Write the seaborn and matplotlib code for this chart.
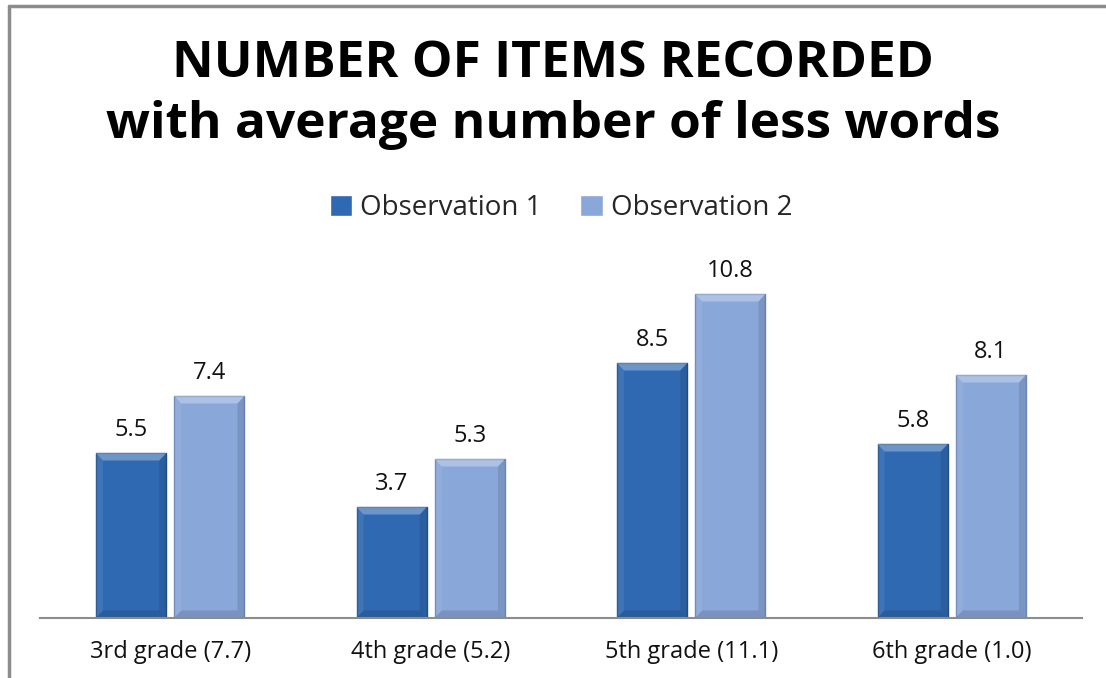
import pandas as pd
import matplotlib.pyplot as plt
import seaborn as sns
from matplotlib.patches import Polygon

# data
grades = ['3rd grade (7.7)', '4th grade (5.2)', '5th grade (11.1)', '6th grade (1.0)']
obs1 = [5.5, 3.7, 8.5, 5.8]
obs2 = [7.4, 5.3, 10.8, 8.1]
series = ['Observation 1', 'Observation 2']

df = pd.DataFrame({
    'grade': grades * 2,
    'value': obs1 + obs2,
    'series': [series[0]] * len(grades) + [series[1]] * len(grades),
})

sns.set_style('white')
plt.rcParams['font.family'] = ['Open Sans', 'DejaVu Sans']

colors = ['#2f69b1', '#8aa7d9']
edges = ['#214f8a', '#6b87b8']

fig = plt.figure(figsize=(11.06, 6.78), dpi=100)
ax = fig.add_axes([40 / 1106, 60 / 678, 1042 / 1106, 360 / 678])

sns.barplot(data=df, x='grade', y='value', hue='series', palette=colors,
            width=0.6, gap=0.1, ax=ax, legend=True, saturation=1)


def facet(pts, col, a):
    ax.add_patch(Polygon(pts, closed=True, facecolor=col, alpha=a, edgecolor='none'))


# bevel look: darker outline + light top / left, dark right / bottom facets
for i, cont in enumerate(ax.containers):
    for bar in cont:
        bar.set_edgecolor(edges[i])
        bar.set_linewidth(1.0)
        x0, y0 = bar.get_x(), bar.get_y()
        w, h = bar.get_width(), bar.get_height()
        x1, y1 = x0 + w, y0 + h
        d = 0.1 * w
        dy = 0.25
        facet([[x0, y1], [x1, y1], [x1 - d, y1 - dy], [x0 + d, y1 - dy]], 'white', 0.3)
        facet([[x0, y0], [x0, y1], [x0 + d, y1 - dy], [x0 + d, y0 + dy]], 'white', 0.08)
        facet([[x1, y0], [x1, y1], [x1 - d, y1 - dy], [x1 - d, y0 + dy]], 'black', 0.1)
        facet([[x0, y0], [x1, y0], [x1 - d, y0 + dy], [x0 + d, y0 + dy]], 'black', 0.12)
    ax.bar_label(cont, fmt='%.1f', padding=8, fontsize=17, color='#111111')

ax.set_ylim(0, 12)
ax.set_xlabel('')
ax.set_ylabel('')
ax.set_yticks([])
for s in ['left', 'right', 'top']:
    ax.spines[s].set_visible(False)
ax.spines['bottom'].set_color('#8c8c8c')
ax.spines['bottom'].set_linewidth(1.5)
ax.tick_params(axis='x', length=0, labelsize=17, pad=16, colors='#111111')

leg = ax.legend(loc='lower center', bbox_to_anchor=(0.5, 1.03), ncol=2,
                frameon=False, fontsize=20, handlelength=0.8, handleheight=0.8,
                handletextpad=0.3, columnspacing=1.4)

fig.text(0.5, 1 - 77 / 678, 'NUMBER OF ITEMS RECORDED', ha='center', va='baseline',
         fontsize=37, fontweight='bold', color='black')
fig.text(0.5, 1 - 138 / 678, 'with average number of less words', ha='center', va='baseline',
         fontsize=37, fontweight='bold', color='black')

# chart frame (left and top edges)
fig.add_artist(plt.Line2D([9 / 1106, 9 / 1106], [0, 1 - 6 / 678], color='#8c8c8c', lw=2.5,
                          transform=fig.transFigure))
fig.add_artist(plt.Line2D([9 / 1106, 1], [1 - 6 / 678, 1 - 6 / 678], color='#8c8c8c', lw=2.5,
                          transform=fig.transFigure))

plt.savefig('out.png', dpi=100)
